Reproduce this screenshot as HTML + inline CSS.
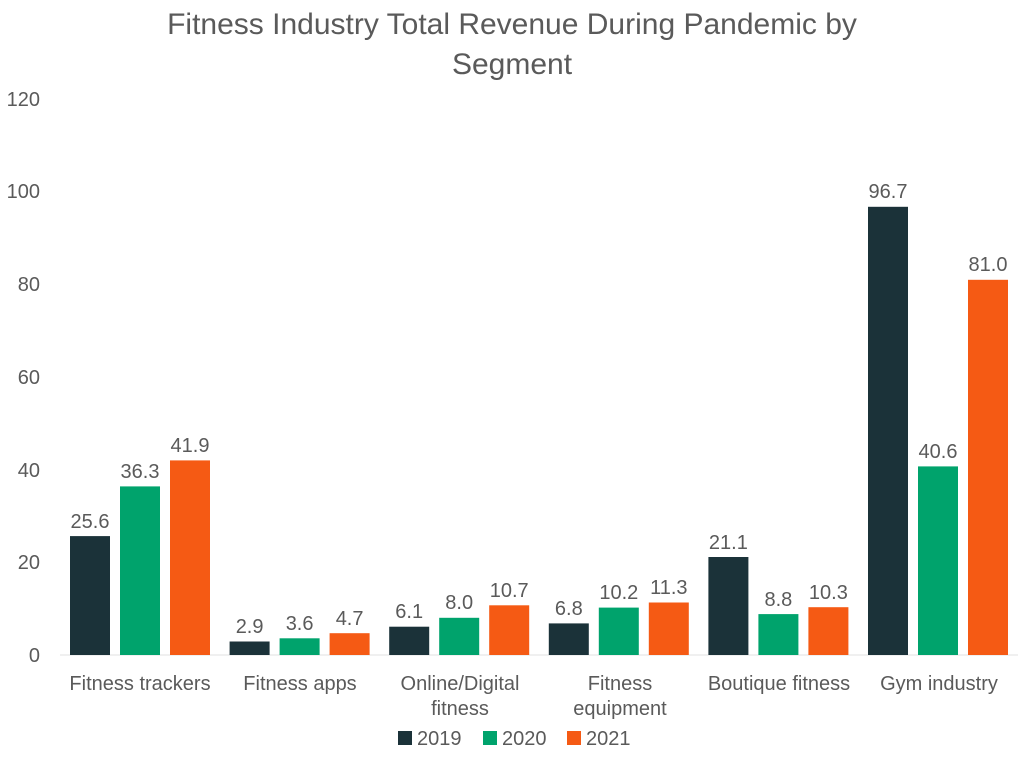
<!DOCTYPE html>
<html><head><meta charset="utf-8"><style>
body{margin:0;background:#fff}
svg text{font-family:"Liberation Sans",sans-serif;fill:#5a5a5a}
</style></head><body>
<svg width="1024" height="756" xmlns="http://www.w3.org/2000/svg">
<text x="512" y="34" font-size="30" text-anchor="middle">Fitness Industry Total Revenue During Pandemic by</text>
<text x="512" y="74" font-size="30" text-anchor="middle">Segment</text>
<g font-size="20" text-anchor="end">
<text x="40" y="662">0</text><text x="40" y="569">20</text><text x="40" y="477">40</text>
<text x="40" y="384">60</text><text x="40" y="291">80</text><text x="40" y="198">100</text><text x="40" y="106">120</text>
</g>
<line x1="60" y1="655" x2="1018" y2="655" stroke="#e0e0e0" stroke-width="1"/>
<g>
<rect x="70" y="536.1" width="40" height="118.9" fill="#1b3239"/>
<rect x="120" y="486.4" width="40" height="168.6" fill="#00a36c"/>
<rect x="170" y="460.4" width="40" height="194.6" fill="#f55a14"/>
<rect x="229.6" y="641.5" width="40" height="13.5" fill="#1b3239"/>
<rect x="279.6" y="638.3" width="40" height="16.7" fill="#00a36c"/>
<rect x="329.6" y="633.2" width="40" height="21.8" fill="#f55a14"/>
<rect x="389.2" y="626.7" width="40" height="28.3" fill="#1b3239"/>
<rect x="439.2" y="617.8" width="40" height="37.2" fill="#00a36c"/>
<rect x="489.2" y="605.3" width="40" height="49.7" fill="#f55a14"/>
<rect x="548.8" y="623.4" width="40" height="31.6" fill="#1b3239"/>
<rect x="598.8" y="607.6" width="40" height="47.4" fill="#00a36c"/>
<rect x="648.8" y="602.5" width="40" height="52.5" fill="#f55a14"/>
<rect x="708.4" y="557.0" width="40" height="98.0" fill="#1b3239"/>
<rect x="758.4" y="614.1" width="40" height="40.9" fill="#00a36c"/>
<rect x="808.4" y="607.2" width="40" height="47.8" fill="#f55a14"/>
<rect x="868" y="206.8" width="40" height="448.2" fill="#1b3239"/>
<rect x="918" y="466.4" width="40" height="188.6" fill="#00a36c"/>
<rect x="968" y="279.8" width="40" height="375.2" fill="#f55a14"/>
</g>
<g font-size="20" text-anchor="middle">
<text x="90" y="528">25.6</text><text x="140" y="478">36.3</text><text x="190" y="452">41.9</text>
<text x="249.6" y="633">2.9</text><text x="299.6" y="630">3.6</text><text x="349.6" y="625">4.7</text>
<text x="409.2" y="618">6.1</text><text x="459.2" y="609">8.0</text><text x="509.2" y="597">10.7</text>
<text x="568.8" y="615">6.8</text><text x="618.8" y="599">10.2</text><text x="668.8" y="594">11.3</text>
<text x="728.4" y="549">21.1</text><text x="778.4" y="606">8.8</text><text x="828.4" y="599">10.3</text>
<text x="888" y="198">96.7</text><text x="938" y="458">40.6</text><text x="988" y="271">81.0</text>
</g>
<g font-size="20" text-anchor="middle">
<text x="140" y="690">Fitness trackers</text>
<text x="300" y="690">Fitness apps</text>
<text x="460" y="690">Online/Digital</text><text x="460" y="715">fitness</text>
<text x="620" y="690">Fitness</text><text x="620" y="715">equipment</text>
<text x="779" y="690">Boutique fitness</text>
<text x="939" y="690">Gym industry</text>
</g>
<g font-size="20">
<rect x="398" y="731" width="14" height="14" fill="#1b3239"/><text x="417" y="745">2019</text>
<rect x="483" y="731" width="14" height="14" fill="#00a36c"/><text x="502" y="745">2020</text>
<rect x="567" y="731" width="14" height="14" fill="#f55a14"/><text x="586" y="745">2021</text>
</g>
</svg>
</body></html>
